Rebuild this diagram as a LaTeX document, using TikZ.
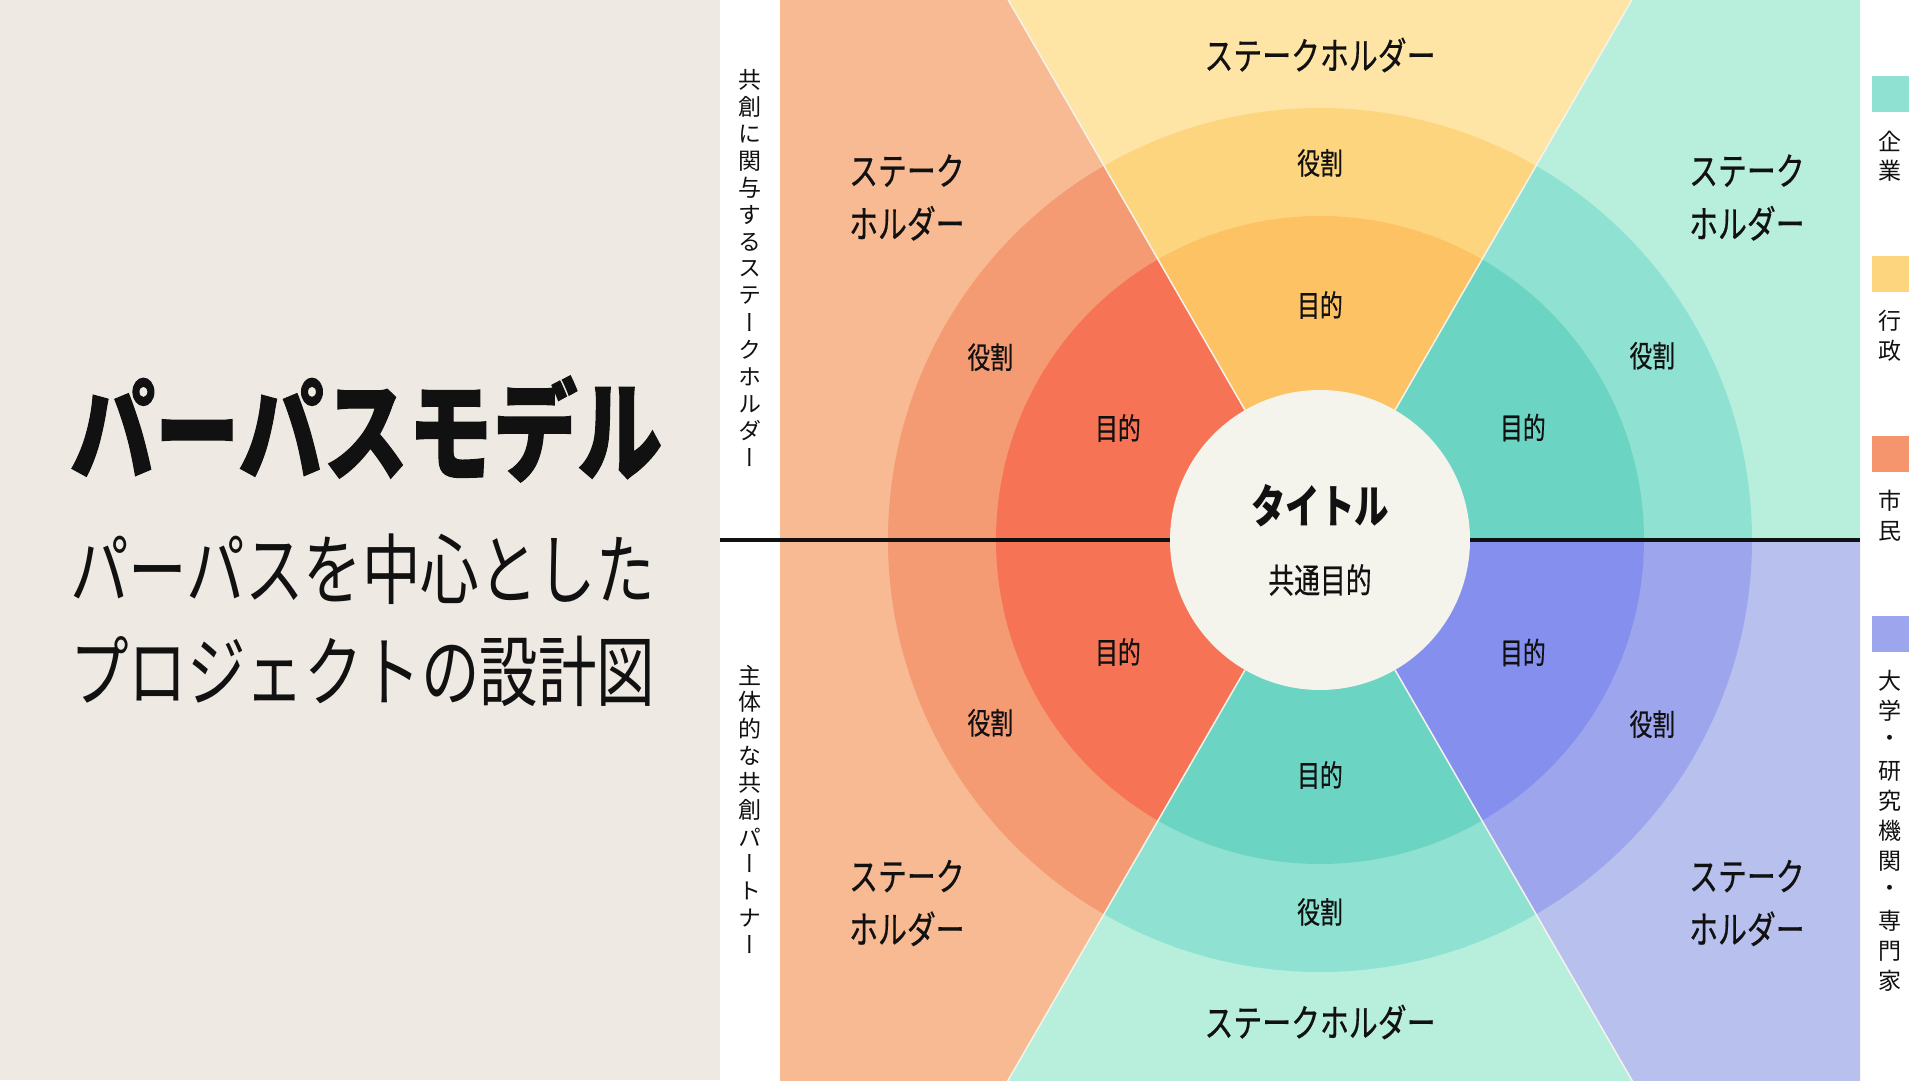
\documentclass[tikz,border=0pt]{standalone}
\usepackage{fontspec}
\setmainfont{Noto Sans CJK JP}
\newfontfamily\jpmed{Noto Sans CJK JP}[FakeBold=0.6]
\newfontfamily\jpheavy{Noto Sans CJK JP}[BoldFeatures={FakeBold=1.2}]
\newfontfamily\jptate{Noto Sans CJK JP}[RawFeature=+vert]
\definecolor{panel}{HTML}{EEEAE3}
\definecolor{coreFill}{HTML}{F4F3EC}
\definecolor{oraO}{HTML}{F7BA92}
\definecolor{oraM}{HTML}{F59B73}
\definecolor{oraI}{HTML}{F67355}
\definecolor{yelO}{HTML}{FEE5A6}
\definecolor{yelM}{HTML}{FDD57F}
\definecolor{yelI}{HTML}{FDC263}
\definecolor{tealO}{HTML}{B8EEDC}
\definecolor{tealM}{HTML}{8FE1D1}
\definecolor{tealI}{HTML}{6BD4C3}
\definecolor{purO}{HTML}{B8C0EE}
\definecolor{purM}{HTML}{9DA6EC}
\definecolor{purI}{HTML}{8590EE}
\definecolor{ink}{HTML}{111111}
\begin{document}
\begin{tikzpicture}[x=1pt, y=1pt, text=ink,
	lbl/.style={inner sep=0pt, xscale=0.76, font=\jpmed\fontsize{30}{30}\selectfont},
	holder/.style={inner sep=0pt, xscale=0.76, align=left, font=\jpmed\fontsize{38}{53}\selectfont},
	tate/.style={inner sep=0pt, font=\jptate\fontsize{23}{23}\selectfont},
	legtxt/.style={inner sep=0pt, font=\jptate\fontsize{23}{23}\selectfont},
	legbox/.style={inner sep=0pt, minimum width=37, minimum height=36}]
	\useasboundingbox (0,0) rectangle (1920,1080);
	%panels
	\fill[white] (0,0) rectangle (1920,1080);
	\fill[panel] (0,0) rectangle (720,1080);
	%title
	\node[anchor=west, inner sep=0pt, xscale=0.77, font=\jpheavy\bfseries\fontsize{110}{110}\selectfont] (title) at (70,651) {パーパスモデル};
	\node[anchor=west, inner sep=0pt, xscale=0.76, font=\fontsize{77}{77}\selectfont] (sub1) at (70,511) {パーパスを中心とした};
	\node[anchor=west, inner sep=0pt, xscale=0.76, font=\fontsize{77}{77}\selectfont] (sub2) at (70,409) {プロジェクトの設計図};
	%vertical captions
	\foreach \ch [count=\i] in {共,創,に,関,与,す,る,ス,テ,ー,ク,ホ,ル,ダ,ー}
	\node[tate] (up\i) at (750,1027-27*\i) {\ch};
	\foreach \ch [count=\i] in {主,体,的,な,共,創,パ,ー,ト,ナ,ー}
	\node[tate] (lo\i) at (750,432-27*\i) {\ch};
	%legend
	\foreach \y/\col/\txt [count=\k] in {
		986/tealM/{企,業},
		806/yelM/{行,政},
		626/oraM!85!oraI/{市,民},
		446/purM/{大,学,・,研,究,機,関,・,専,門,家}}{
		\node[legbox, fill=\col] (leg\k) at (1890,\y) {};
		\foreach \ch [count=\j] in \txt
		\node[legtxt] (leg\k-\j) at (1890,\y-17-30*\j) {\ch};
	}
	%diagram
	\begin{scope}[shift={(1320,540)}]
		\coordinate (divL) at (-600,0);
		\coordinate (divR) at (540,0);
		\begin{scope}
			\clip (-540,-540) rectangle (540,540);
			\foreach \a/\b/\co/\cm/\ci in {
				0/60/tealO/tealM/tealI,
				60/120/yelO/yelM/yelI,
				120/180/oraO/oraM/oraI,
				180/240/oraO/oraM/oraI,
				240/300/tealO/tealM/tealI,
				300/360/purO/purM/purI}{
				\fill[fill=\co] (0,0) -- (\a:1200) -- ({(\a+\b)/2}:1200) -- (\b:1200) -- cycle;
				\fill[fill=\cm] (0,0) -- (\a:432) arc[start angle=\a, end angle=\b, radius=432] -- cycle;
				\fill[fill=\ci] (0,0) -- (\a:324) arc[start angle=\a, end angle=\b, radius=324] -- cycle;
			}
			\node[circle, fill=coreFill, minimum size=300, inner sep=0pt] (core) at (0,0) {};
			\foreach \a in {60,120,240,300}
			\draw[coreFill, line width=1.5] (core.\a) -- (\a:1200);
		\end{scope}
		\draw[ink, line width=4] (divL) -- (core.west);
		\draw[ink, line width=4] (core.east) -- (divR);
		%center
		\node[inner sep=0pt, xscale=0.75, font=\bfseries\fontsize{46}{46}\selectfont] (core title) at (0,34) {タイトル};
		\node[inner sep=0pt, xscale=0.76, font=\jpmed\fontsize{34}{34}\selectfont] (core sub) at (0,-40) {共通目的};
		%rings
		\foreach \m/\ra/\rr [count=\i] in {29/232/380,90/235/377,151/231/377,209/231/377,270/235/372,331/232/380}{
			\node[lbl] (aim\i) at (\m:\ra) {目的};
			\node[lbl] (role\i) at (\m:\rr) {役割};
		}
		%stakeholders
		\node[holder] (top) at (0,485) {ステークホルダー};
		\node[holder] (bottom) at (0,-482) {ステークホルダー};
		\node[holder, anchor=west] (ul) at (-471,342.5) {ステーク\\ホルダー};
		\node[holder, anchor=west] (ur) at (369,342.5) {ステーク\\ホルダー};
		\node[holder, anchor=west] (ll) at (-471,-363) {ステーク\\ホルダー};
		\node[holder, anchor=west] (lr) at (369,-363) {ステーク\\ホルダー};
	\end{scope}
\end{tikzpicture}
\end{document}
